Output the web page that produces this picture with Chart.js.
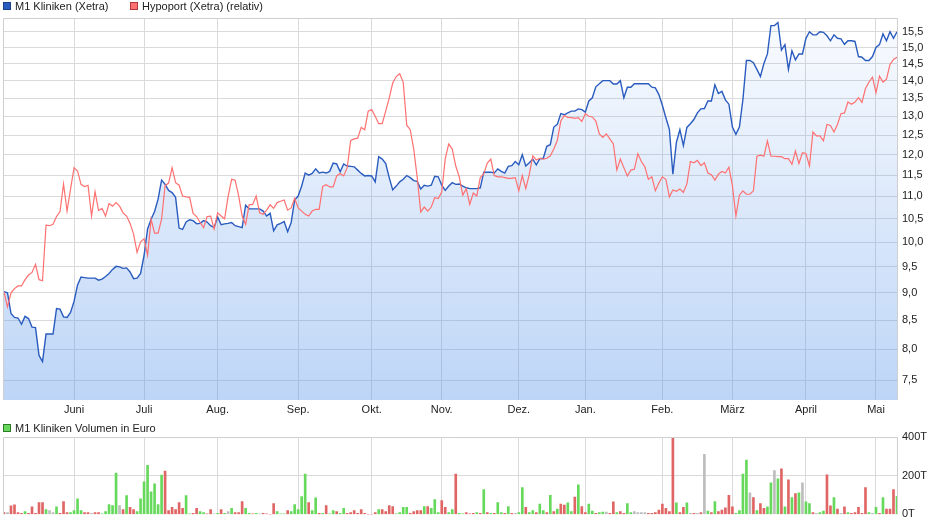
<!DOCTYPE html>
<html>
<head>
<meta charset="utf-8">
<script src="https://cdn.jsdelivr.net/npm/chart.js@4.4.1/dist/chart.umd.min.js"></script>
<style>
  body { margin: 0; background: #fff; font-family: "Liberation Sans", Arial, sans-serif; }
  #wrap { position: relative; width: 940px; height: 526px; overflow: hidden; }
  canvas { position: absolute; left: 0; }
  #priceChart { top: 0; }
  #volumeChart { top: 420px; }
  .legend { position: absolute; font-size: 11px; color: #222; line-height: 12px; white-space: nowrap; }
  .legend i { display: inline-block; width: 6px; height: 6px; border: 1px solid; margin-right: 4px; vertical-align: 0; }
</style>
</head>
<body>
<div id="wrap">
  <canvas id="priceChart" width="940" height="420"></canvas>
  <canvas id="volumeChart" width="940" height="106"></canvas>
  <div class="legend" style="left:3px;top:0px"><i style="background:#2a5cbf;border-color:#1a3f8a"></i>M1 Kliniken (Xetra)</div>
  <div class="legend" style="left:130px;top:0px"><i style="background:#ff7070;border-color:#b03a3a"></i>Hypoport (Xetra) (relativ)</div>
  <div class="legend" style="left:3px;top:422px"><i style="background:#66d95c;border-color:#2f7a28"></i>M1 Kliniken Volumen in Euro</div>
</div>
<script>
// x axis: trading days, month labels at first trading day of month
const monthNames = ['Juni', 'Juli', 'Aug.', 'Sep.', 'Okt.', 'Nov.', 'Dez.', 'Jan.', 'Feb.', 'März', 'April', 'Mai'];
const monthStartIdx = [20, 40, 61, 84, 105, 125, 147, 166, 188, 208, 229, 249];

const priceTicks = [7.5, 8, 8.5, 9, 9.5, 10, 10.5, 11, 11.5, 12, 12.5, 13, 13.5, 14, 14.5, 15, 15.5];
const volumeTicks = [0, 200, 400];

// M1 Kliniken (Xetra), EUR
const m1Kliniken = [
  9.02, 9.0, 8.62, 8.55, 8.54, 8.43, 8.57, 8.53, 8.38, 8.37,
  7.9, 7.8, 8.26, 8.26, 8.26, 8.71, 8.7, 8.56, 8.55, 8.64,
  8.84, 9.15, 9.3, 9.29, 9.28, 9.28, 9.28, 9.24, 9.26, 9.31,
  9.37, 9.45, 9.51, 9.5, 9.47, 9.48, 9.4, 9.27, 9.28, 9.37,
  9.73, 10.28, 10.49, 10.66, 10.94, 11.38, 11.28, 11.14, 11.09, 10.98,
  10.3, 10.27, 10.43, 10.48, 10.46, 10.39, 10.4, 10.46, 10.43, 10.35,
  10.31, 10.54, 10.37, 10.39, 10.4,
  10.42, 10.35, 10.33, 10.31, 10.8, 10.72, 10.72, 10.72, 10.72, 10.67,
  10.56, 10.62, 10.24, 10.37, 10.4, 10.44, 10.22, 10.42, 10.92, 11.01,
  11.24, 11.55, 11.5, 11.54, 11.65, 11.55, 11.57, 11.55, 11.59, 11.79,
  11.77, 11.58, 11.77, 11.72, 11.71, 11.7, 11.62, 11.54, 11.48, 11.49,
  11.48, 11.34, 11.95, 11.89, 11.78, 11.44, 11.15, 11.24, 11.34, 11.4,
  11.49, 11.44, 11.37, 11.35, 11.17, 11.26, 11.24, 11.26, 11.47, 11.46,
  11.26, 11.14, 11.24, 11.32, 11.28,
  11.29, 11.24, 11.2, 11.18, 11.18, 11.18, 11.2, 11.57, 11.57, 11.57,
  11.55, 11.65, 11.59, 11.55, 11.71, 11.73, 11.83, 11.75, 12.0, 11.72,
  11.8, 11.89, 11.75, 11.9, 11.91, 12.21, 12.25, 12.71, 12.78, 13.07,
  13.04, 13.09, 13.14, 13.14, 13.2, 13.18, 13.11, 13.42, 13.51, 13.82,
  13.91, 14.0, 14.0, 14.0, 13.9, 13.9, 14.0, 13.51, 13.81, 13.81,
  13.91, 13.91, 13.91, 13.91, 13.91, 13.81, 13.79, 13.6, 13.3, 12.96,
  12.65, 11.52, 12.31, 12.64,
  12.23, 12.7, 12.8, 12.91, 13.09, 13.2, 13.21, 13.42, 13.42, 13.88,
  13.63, 13.69, 13.45, 13.33, 12.71, 12.52, 12.71, 13.46, 14.6, 14.6,
  14.53, 14.33, 14.12, 14.51, 14.8, 15.7, 15.7, 15.8, 14.92, 15.09,
  14.33, 14.9, 14.62, 14.8, 14.8, 15.29, 15.5, 15.4, 15.4, 15.5,
  15.48, 15.37, 15.21, 15.4, 15.29, 15.27, 15.1, 15.21, 15.21, 15.19,
  14.72, 14.7, 14.6, 14.6, 14.72, 15.0, 15.09, 15.43, 15.21, 15.5,
  15.29, 15.5
];

// Hypoport (Xetra), rebased to M1 start value
const hypoport = [
  9.02, 8.74, 9.0, 9.08, 9.13, 9.13, 9.25, 9.34, 9.39, 9.55,
  9.25, 9.23, 10.36, 10.35, 10.38, 10.55, 10.66, 11.29, 10.67, 11.17,
  11.68, 11.6, 11.28, 11.23, 11.26, 10.56, 11.11, 10.68, 10.73, 10.56,
  10.84, 10.78, 10.86, 10.78, 10.63, 10.56, 10.4, 10.17, 9.79, 10.01,
  10.07, 9.73, 10.49, 10.19, 10.19, 10.49, 11.25, 11.31, 11.68, 11.32,
  11.26, 11.01, 10.99, 10.98, 10.62, 10.55, 10.42, 10.31, 10.55, 10.56,
  10.28, 10.63, 10.56, 10.5, 11.0,
  11.4, 11.38, 11.02, 10.56, 10.38, 10.81, 10.82, 11.01, 10.63, 10.6,
  10.69, 10.81, 10.73, 10.86, 10.89, 10.92, 10.69, 10.74, 10.96, 10.74,
  10.67, 10.6, 10.56, 10.67, 10.71, 10.71, 11.23, 11.27, 11.22, 11.22,
  11.48, 11.54, 11.48, 11.68, 12.36, 12.4, 12.42, 12.7, 12.64, 13.14,
  13.18, 13.0, 12.8, 12.8, 13.14, 13.5, 13.93, 14.12, 14.2, 13.95,
  12.76, 12.64, 12.14, 11.44, 10.65, 10.76, 10.67, 10.76, 10.97, 10.95,
  11.1, 11.9, 12.27, 12.14, 11.72,
  11.46, 11.03, 11.18, 10.82, 11.08, 11.01, 11.44, 11.53, 11.79, 11.89,
  11.49, 11.46, 11.46, 11.44, 11.42, 11.42, 11.44, 11.13, 11.49, 11.18,
  11.52, 11.97, 11.87, 11.91, 11.89, 11.91, 11.97, 12.14, 12.36, 12.87,
  13.02, 12.97, 12.96, 12.94, 12.96, 12.86, 13.07, 13.0, 12.98, 12.87,
  12.53, 12.44, 12.53, 12.4, 12.27, 11.62, 11.89, 11.68, 11.48, 11.62,
  11.64, 12.02, 11.83, 11.7, 11.4, 11.46, 11.13, 11.31, 11.46, 11.4,
  10.99, 11.15, 11.12, 11.17,
  11.09, 11.29, 11.83, 11.8, 11.86, 11.73, 11.8, 11.55, 11.51, 11.38,
  11.52, 11.59, 11.55, 11.69, 11.25, 10.56, 11.03, 11.13, 11.05, 11.05,
  11.13, 11.96, 11.99, 11.96, 12.35, 11.96, 11.96, 11.95, 11.95, 11.9,
  11.9, 11.76, 12.09, 11.78, 12.05, 12.03, 11.72, 12.58, 12.48, 12.48,
  12.35, 12.78, 12.75, 12.58, 12.78, 13.07, 13.09, 13.39, 13.33, 13.39,
  13.51, 13.38, 13.77, 13.96, 14.1, 13.65, 14.13, 13.96, 14.04, 14.48,
  14.63, 14.7
];

// daily turnover in thousand EUR
const volume = [
  10, 10, 44, 49, 10, 5, 14, 5, 39, 5,
  61, 61, 25, 20, 10, 39, 5, 66, 10, 10,
  20, 81, 20, 10, 10, 5, 10, 10, 2, 15,
  51, 46, 214, 46, 25, 97, 36, 25, 15, 81,
  168, 254, 117, 158, 51, 203, 224, 20, 36, 25,
  61, 31, 97, 2, 5, 31, 15, 10, 2, 25,
  2, 5, 25, 5, 15, 31, 10, 10, 66, 31,
  5, 2, 5, 2, 5, 2, 0, 56, 15, 2,
  2, 20, 15, 51, 25, 92, 209, 61, 20, 86,
  5, 5, 46, 2, 20, 15, 5, 31, 5, 10,
  20, 5, 25, 5, 0, 0, 10, 25, 25, 15,
  46, 41, 2, 10, 36, 36, 5, 15, 20, 20,
  41, 41, 31, 76, 10, 71, 36, 10, 25, 208,
  5, 2, 10, 2, 5, 10, 5, 128, 10, 5,
  5, 61, 10, 5, 41, 5, 5, 10, 138, 36,
  10, 20, 10, 53, 20, 10, 99, 15, 27, 53,
  48, 60, 15, 90, 153, 41, 10, 53, 17, 5,
  10, 12, 12, 5, 65, 10, 15, 5, 56, 10,
  14, 10, 10, 10, 5, 5, 10, 22, 53, 31,
  15, 400, 60, 10, 36, 60, 5, 5, 5, 10,
  310, 17, 10, 66, 15, 22, 34, 99, 39, 5,
  20, 209, 281, 112, 87, 20, 56, 31, 39, 163,
  226, 184, 235, 39, 179, 87, 107, 112, 163, 65,
  56, 10, 5, 10, 17, 204, 44, 87, 27, 5,
  39, 10, 5, 10, 36, 5, 138, 10, 5, 36,
  5, 87, 27, 27, 128, 94
];

// g = up day, r = down day, n = unchanged
const volumeDir = [
  'r','n','r','r','r','r','g','r','r','r',
  'r','r','g','n','n','g','r','r','r','g',
  'g','g','g','r','r','n','r','r','g','g',
  'g','g','g','n','r','g','r','r','g','g',
  'g','g','g','g','g','g','r','r','r','r',
  'r','r','g','g','r','r','g','g','r','r',
  'n','g','r','g','n','g','r','r','r','g',
  'g','r','g','n','r','r','r','r','g','g',
  'g','r','g','g','g','g','g','r','g','g',
  'r','g','r','g','g','r','g','g','r','r',
  'r','r','r','r','r','r','r','g','r','r',
  'r','r','g','g','g','g','r','r','r','r',
  'g','r','g','g','g','r','r','g','g','r',
  'g','g','r','r','r','g','r','g','r','g',
  'r','g','g','r','g','r','n','g','g','r',
  'g','g','r','g','g','r','g','r','g','r',
  'r','g','g','r','g','r','r','g','g','r',
  'g','g','n','r','r','g','r','r','g','g',
  'n','n','n','n','r','r','r','r','r','r',
  'r','r','g','r','r','g','n','r','n','r',
  'n','g','r','g','r','r','r','r','r','g',
  'g','g','g','n','r','g','r','r','g','g',
  'n','g','r','g','r','g','r','g','n','g',
  'g','r','n','g','g','r','r','g','r','n',
  'r','g','r','r','r','r','r','g','n','g',
  'r','g','r','r','r','g'
];

const DIR_COLORS = { g: '#66d95c', r: '#e06666', n: '#bdbdbd' };
const GRID = '#dadada';
const TEXT = '#222';
const FONT = { family: '"Liberation Sans", Arial, sans-serif', size: 11 };

// thin frame on left / top / right of plot area
const framePlugin = {
  id: 'frame',
  afterDraw(chart) {
    const { ctx, chartArea: a } = chart;
    ctx.save();
    ctx.strokeStyle = '#cfcfcf';
    ctx.lineWidth = 1;
    ctx.beginPath();
    ctx.moveTo(Math.round(a.left) - 0.5, a.bottom);
    ctx.lineTo(Math.round(a.left) - 0.5, Math.round(a.top) + 0.5);
    ctx.lineTo(Math.round(a.right) + 0.5, Math.round(a.top) + 0.5);
    ctx.lineTo(Math.round(a.right) + 0.5, a.bottom);
    ctx.stroke();
    ctx.restore();
  }
};

function monthAxis(showLabels) {
  return {
    type: 'linear',
    min: 0,
    max: m1Kliniken.length - 1,
    offset: false,
    grid: { color: GRID, drawTicks: false, offset: false },
    border: { display: false },
    afterBuildTicks: s => { s.ticks = monthStartIdx.map(v => ({ value: v })); },
    afterFit: s => { s.height = showLabels ? 20 : 0; },
    ticks: {
      display: showLabels,
      autoSkip: false,
      maxRotation: 0,
      padding: 3,
      color: TEXT,
      font: FONT,
      callback: (v, i) => monthNames[i]
    }
  };
}

const priceCtx = document.getElementById('priceChart');
new Chart(priceCtx, {
  type: 'line',
  data: {
    datasets: [
      {
        label: 'Hypoport (Xetra) (relativ)',
        data: hypoport.map((v, i) => ({ x: i, y: v })),
        borderColor: '#ff7070',
        borderWidth: 1.2,
        pointRadius: 0,
        fill: false,
        order: 0
      },
      {
        label: 'M1 Kliniken (Xetra)',
        data: m1Kliniken.map((v, i) => ({ x: i, y: v })),
        borderColor: '#2a5cbf',
        borderWidth: 1.4,
        pointRadius: 0,
        fill: 'start',
        backgroundColor: (c) => {
          const a = c.chart.chartArea;
          if (!a) return 'rgba(90,150,235,0.2)';
          const g = c.chart.ctx.createLinearGradient(0, a.top, 0, a.bottom);
          g.addColorStop(0, 'rgba(90,150,235,0.03)');
          g.addColorStop(1, 'rgba(90,150,235,0.40)');
          return g;
        },
        order: 1
      }
    ]
  },
  options: {
    responsive: false,
    animation: false,
    events: [],
    layout: { padding: { left: 4, top: 18, right: 0, bottom: 0 } },
    plugins: { legend: { display: false }, tooltip: { enabled: false } },
    scales: {
      x: monthAxis(true),
      y: {
        type: 'logarithmic',
        position: 'right',
        min: 7.22,
        max: 15.95,
        grid: { color: GRID, drawTicks: false },
        border: { display: false },
        afterBuildTicks: s => { s.ticks = priceTicks.map(v => ({ value: v })); },
        afterFit: s => { s.width = 43; },
        ticks: {
          padding: 5,
          color: TEXT,
          font: FONT,
          callback: v => Number(v).toFixed(1).replace('.', ',')
        }
      }
    }
  },
  plugins: [framePlugin]
});

const volCtx = document.getElementById('volumeChart');
new Chart(volCtx, {
  type: 'bar',
  data: {
    datasets: [{
      label: 'M1 Kliniken Volumen in Euro',
      data: volume.map((v, i) => ({ x: i, y: v })),
      backgroundColor: volumeDir.map(d => DIR_COLORS[d]),
      barThickness: 2,
      borderWidth: 0
    }]
  },
  options: {
    responsive: false,
    animation: false,
    events: [],
    layout: { padding: { left: 4, top: 17, right: 0, bottom: 10 } },
    plugins: { legend: { display: false }, tooltip: { enabled: false } },
    scales: {
      x: monthAxis(false),
      y: {
        position: 'right',
        min: 0,
        max: 400,
        grid: { color: c => (c.tick && c.tick.value === 0 ? 'rgba(0,0,0,0)' : GRID), drawTicks: false },
        border: { display: false },
        afterBuildTicks: s => { s.ticks = volumeTicks.map(v => ({ value: v })); },
        afterFit: s => { s.width = 43; },
        ticks: {
          padding: 5,
          color: TEXT,
          font: FONT,
          callback: v => v + 'T'
        }
      }
    }
  },
  plugins: [framePlugin]
});
</script>
</body>
</html>
